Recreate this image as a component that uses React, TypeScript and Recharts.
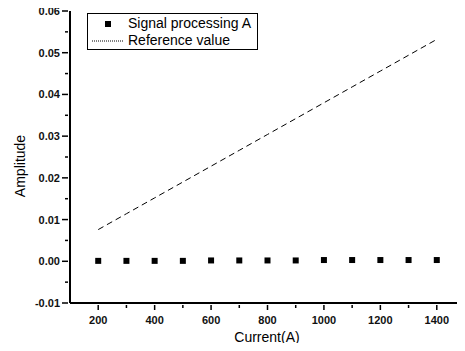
import React from 'react';
import { ComposedChart, Line, Scatter, XAxis, YAxis, ZAxis } from 'recharts';

const currents = [200, 300, 400, 500, 600, 700, 800, 900, 1000, 1100, 1200, 1300, 1400];
const signalA = [0.0001, 0.0001, 0.0001, 0.0001, 0.0002, 0.0002, 0.0002, 0.0002, 0.0003, 0.0003, 0.0003, 0.0003, 0.0003];
const referenceValue = [0.0076, 0.0114, 0.0152, 0.019, 0.0228, 0.0266, 0.0304, 0.0342, 0.038, 0.0418, 0.0456, 0.0494, 0.0532];

const xTicks = [200, 300, 400, 500, 600, 700, 800, 900, 1000, 1100, 1200, 1300, 1400];
const xLabeled = [200, 400, 600, 800, 1000, 1200, 1400];
const yTicks = [-0.01, -0.005, 0, 0.005, 0.01, 0.015, 0.02, 0.025, 0.03, 0.035, 0.04, 0.045, 0.05, 0.055, 0.06];

// "ref" as a key gets spread onto elements as a React ref, so use other names
const data = currents.map((c, i) => ({ current: c, signal: signalA[i], reference: referenceValue[i] }));

const font = 'Arial, "Liberation Sans", sans-serif';

const XTick = (props: any) => {
  const { x, y, payload } = props;
  const major = xLabeled.includes(payload.value);
  return (
    <g>
      <line x1={x} x2={x} y1={y - 6} y2={y - 6 + (major ? 5 : 3)} stroke="#000" strokeWidth={1.5} />
      {major && (
        <text x={x} y={y + 13} textAnchor="middle" fontSize={11} fontWeight="bold" fontFamily={font} fill="#111">
          {payload.value}
        </text>
      )}
    </g>
  );
};

const YTick = (props: any) => {
  const { x, y, payload } = props;
  const v = Math.round(payload.value * 1000) / 1000;
  const major = Math.abs(Math.round(v * 100) - v * 100) < 1e-6;
  return (
    <g>
      <line x1={x + 6} x2={x + 6 - (major ? 6 : 3)} y1={y} y2={y} stroke="#000" strokeWidth={1.5} />
      {major && (
        <text x={x - 2} y={y + 4} textAnchor="end" fontSize={11} fontWeight="bold" fontFamily={font} fill="#111">
          {v.toFixed(2)}
        </text>
      )}
    </g>
  );
};

const LegendBox = () => (
  <div
    style={{
      position: 'absolute',
      left: 87,
      top: 13,
      border: '1px solid #000',
      width: 171,
      height: 37,
      boxSizing: 'border-box',
      fontFamily: font,
      fontSize: 14,
      color: '#000',
      lineHeight: '17px',
      padding: '1px 0 0 0',
      background: '#fff',
    }}
  >
    <div style={{ display: 'flex', alignItems: 'center', height: 17 }}>
      <span style={{ width: 40, display: 'flex', justifyContent: 'center' }}>
        <span style={{ width: 6, height: 6, background: '#000', display: 'inline-block' }} />
      </span>
      <span>Signal processing A</span>
    </div>
    <div style={{ display: 'flex', alignItems: 'center', height: 17 }}>
      <span style={{ width: 40, display: 'flex', justifyContent: 'center' }}>
        <svg width={34} height={4}>
          <line x1={1} x2={33} y1={2} y2={2} stroke="#000" strokeWidth={1} strokeDasharray="1 1" />
        </svg>
      </span>
      <span>Reference value</span>
    </div>
  </div>
);

const App: React.FC = () => {
  return (
    <div style={{ position: 'relative', margin: -8, width: 465, height: 351, background: '#fff' }}>
      <ComposedChart width={465} height={351} data={data} margin={{ top: 11, right: 0, left: 0, bottom: 0 }}>
        <XAxis
          dataKey="current"
          type="number"
          domain={[100, 1500]}
          ticks={xTicks}
          interval={0}
          height={48}
          axisLine={{ stroke: '#000', strokeWidth: 2 }}
          tickLine={false}
          tick={<XTick />}
          label={{
            content: () => (
              <text x={267} y={342} textAnchor="middle" fontSize={14} fontFamily={font} fill="#000">
                Current(A)
              </text>
            ),
          }}
        />
        <YAxis
          type="number"
          domain={[-0.01, 0.06]}
          ticks={yTicks}
          interval={0}
          width={70}
          axisLine={{ stroke: '#000', strokeWidth: 2 }}
          tickLine={false}
          tick={<YTick />}
          label={{
            content: () => (
              <text x={25} y={166} textAnchor="middle" fontSize={14} fontFamily={font} fill="#000" transform="rotate(-90 25 166)">
                Amplitude
              </text>
            ),
          }}
        />
        <ZAxis range={[36, 36]} />
        <Line
          dataKey="reference"
          stroke="#000"
          strokeWidth={1}
          strokeDasharray="6 4"
          dot={false}
          activeDot={false}
          isAnimationActive={false}
        />
        <Scatter dataKey="signal" fill="#000" shape="square" isAnimationActive={false} />
      </ComposedChart>
      <LegendBox />
    </div>
  );
};

export default App;
